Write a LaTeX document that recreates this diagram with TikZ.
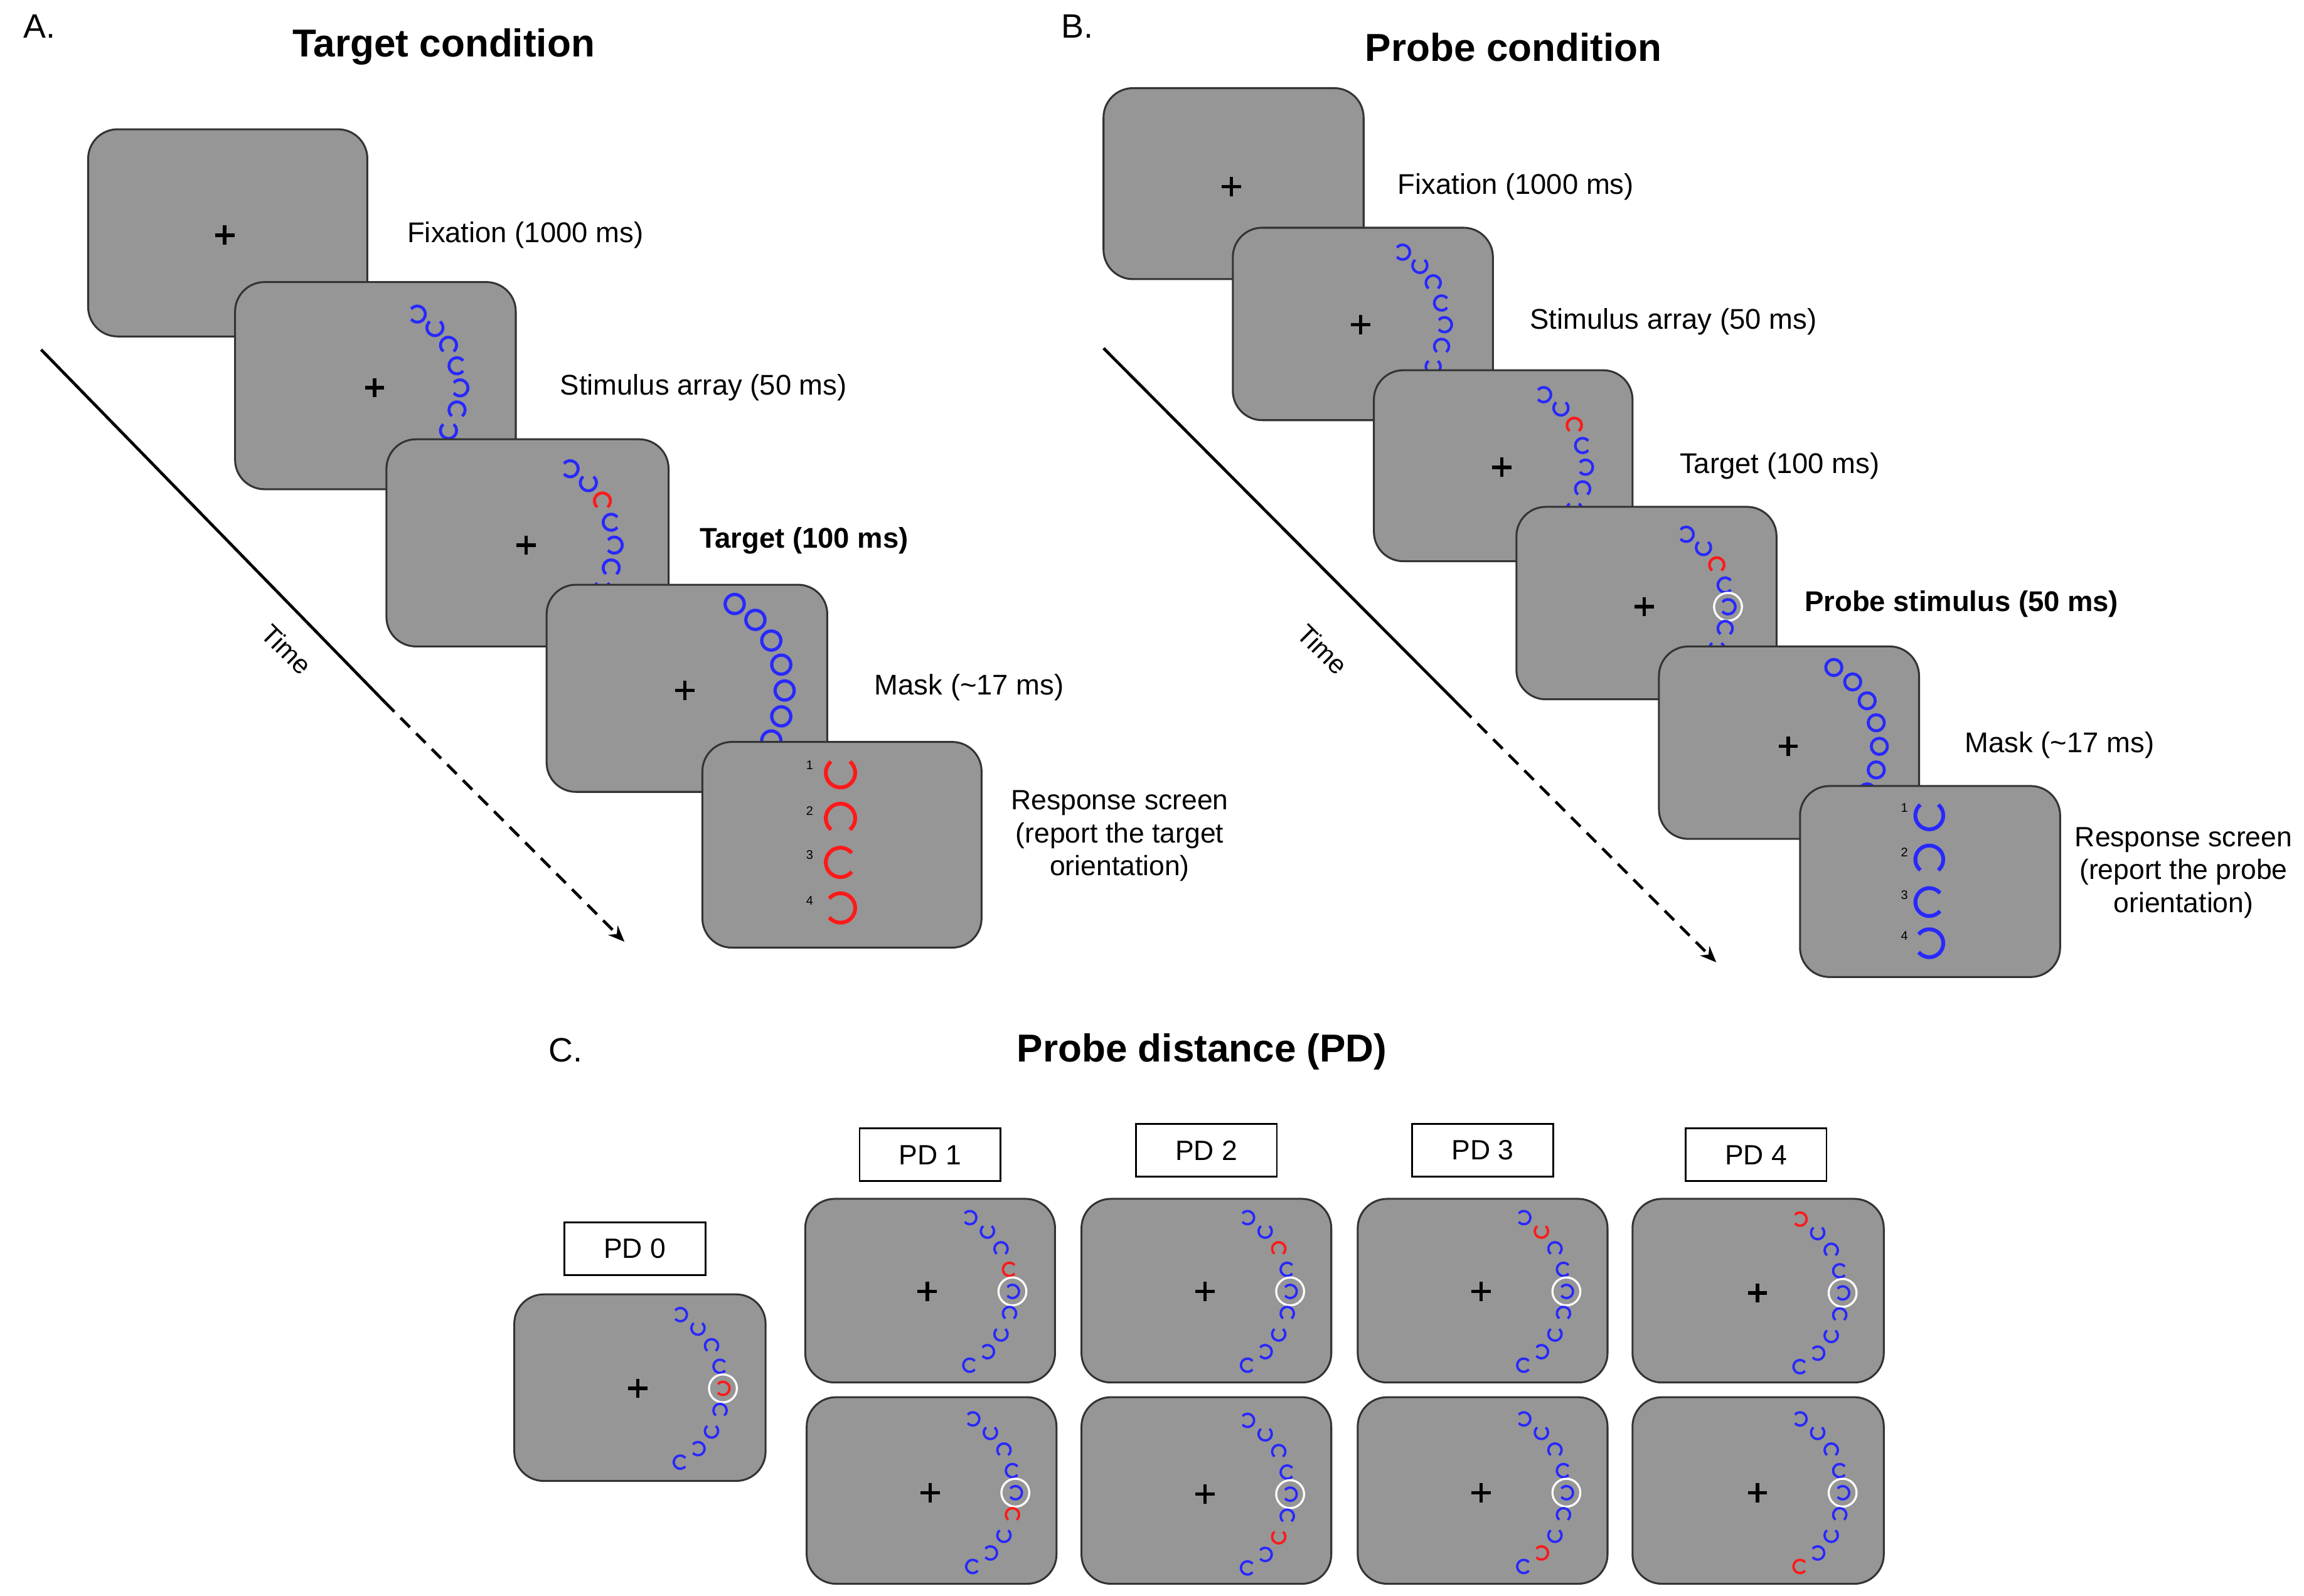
\documentclass[tikz,border=0pt]{standalone}
\usepackage{fontspec}
\setmainfont{Liberation Sans}
\usetikzlibrary{calc,arrows.meta}
\definecolor{scrgray}{RGB}{150,150,150}
\definecolor{cblue}{RGB}{40,40,255}
\definecolor{cred}{RGB}{255,25,25}
\tikzset{
  scr/.style={draw=black!80,line width=1.3pt,fill=scrgray,rounded corners=20pt},
  lab/.style={font=\fontsize{19.4}{23}\selectfont,anchor=west,inner sep=0},
  blab/.style={lab,font=\fontsize{19.4}{23}\selectfont\bfseries},
  resp/.style={font=\fontsize{19}{22.5}\selectfont,align=center,inner sep=0},
  ttl/.style={font=\fontsize{26.5}{30}\selectfont\bfseries,inner sep=0},
  let/.style={font=\fontsize{23}{26}\selectfont,inner sep=0},
  timel/.style={font=\fontsize{18}{20}\selectfont,rotate=-45,inner sep=0},
  pdbox/.style={draw,line width=1.2pt,fill=white,minimum width=96pt,minimum height=36pt,font=\fontsize{19}{22}\selectfont},
  num/.style={font=\fontsize{8.5}{9}\selectfont,inner sep=0},
  tline/.style={line width=2pt},
  tdash/.style={line width=2pt,dash pattern=on 9pt off 6pt,-{Stealth[length=11pt,width=9pt]}}
}
\newcommand{\scrn}[4]{\draw[scr] (#1,#2) rectangle (#3,#4);}
\newcommand{\fix}[2]{\draw[line width=2.4pt] ({#1-6.5},#2)--({#1+6.5},#2) (#1,{#2-6.5})--(#1,{#2+6.5});}
% cx cy R r red probe lw
\newcommand{\ringC}[7]{%
\foreach \i in {0,...,8}{%
 \pgfmathsetmacro\ang{-60+15*\i}%
 \pgfmathsetmacro\op{{180,270,90,0,180,90,270,180,0}[\i]}%
 \ifnum\i=#5 \def\col{cred}\else\def\col{cblue}\fi
 \draw[\col,line width=#7] ($(#1,#2)+(\ang:#3)+(\op+40:#4)$) arc[start angle=\op+40,end angle=\op+320,radius=#4];
 \ifnum\i=#6 \draw[white,line width=1.4pt] ($(#1,#2)+(\ang:#3)$) circle[radius=9.5];\fi
}}
\newcommand{\ringO}[5]{%
\foreach \i in {0,...,8}{%
 \pgfmathsetmacro\ang{-60+15*\i}%
 \draw[cblue,line width=#5] ($(#1,#2)+(\ang:#3)$) circle[radius=#4];
}}
\newcommand{\bigC}[5]{\draw[#5,line width=2.6pt] ($(#1,#2)+(#4+40:#3)$) arc[start angle=#4+40,end angle=#4+320,radius=#3];}
\begin{document}
\begin{tikzpicture}[x=1pt,y=-1pt]
\useasboundingbox (0,0) rectangle (1568,1086);
% ---------- A ----------
\node[let] (A) at (27,18) {A.};
\node[ttl] (tA) at (302,32) {Target condition};
\coordinate (a0) at (28,238); \coordinate (a1) at (262,478); \coordinate (a2) at (425,641);
\draw[tline] (a0)--(a1);
\draw[tdash] (a1)--(a2);
\node[timel] (timeA) at (195,442) {Time};
\scrn{60}{88}{250}{229}\fix{153}{160}
\scrn{160}{192}{351}{333}\fix{255}{264}\ringC{255}{264}{58}{5.5}{-1}{-1}{2pt}
\scrn{263}{299}{455}{440}\fix{358}{371}\ringC{358}{371}{60}{5.5}{2}{-1}{2pt}
\scrn{372}{398}{563}{539}\fix{466}{470}\ringO{466}{470}{68}{6.5}{2.2pt}
\scrn{478}{505}{668}{645}
\foreach \y/\n/\o in {521/1/270,552/2/90,582/3/0,613/4/180}{
  \node[num] at (551,\y) {\n};
  \bigC{572}{{\y+5}}{10}{\o}{cred}}
\node[lab] (l1) at (277,160) {Fixation (1000 ms)};
\node[lab] (l2) at (381,264) {Stimulus array (50 ms)};
\node[blab] (l3) at (476,368) {Target (100 ms)};
\node[lab] (l4) at (595,468) {Mask (\textasciitilde17 ms)};
\node[resp] (l5) at (762,569) {Response screen\\(report the target\\orientation)};
% ---------- B ----------
\node[let] (B) at (733,18) {B.};
\node[ttl] (tB) at (1030,32) {Probe condition};
\coordinate (b0) at (751,237); \coordinate (b1) at (995,482); \coordinate (b2) at (1168,655);
\draw[tline] (b0)--(b1);
\draw[tdash] (b1)--(b2);
\node[timel] (timeB) at (900,442) {Time};
\scrn{751}{60}{928}{190}\fix{838}{127}
\scrn{839}{155}{1016}{286}\fix{926}{221}\ringC{926}{221}{57}{5}{-1}{-1}{1.8pt}
\scrn{935}{252}{1111}{382}\fix{1022}{318}\ringC{1022}{318}{57}{5}{2}{-1}{1.8pt}
\scrn{1032}{345}{1209}{476}\fix{1119}{413}\ringC{1119}{413}{57}{5}{2}{4}{1.8pt}
\scrn{1129}{440}{1306}{571}\fix{1217}{508}\ringO{1217}{508}{62}{5.5}{2pt}
\scrn{1225}{535}{1402}{665}
\foreach \y/\n/\o in {550/1/270,580/2/90,609/3/0,637/4/180}{
  \node[num] at (1296,\y) {\n};
  \bigC{1313}{{\y+5}}{9.5}{\o}{cblue}}
\node[lab] (m1) at (951,127) {Fixation (1000 ms)};
\node[lab] (m2) at (1041,219) {Stimulus array (50 ms)};
\node[lab] (m3) at (1143,317) {Target (100 ms)};
\node[blab] (m4) at (1228,411) {Probe stimulus (50 ms)};
\node[lab] (m5) at (1337,507) {Mask (\textasciitilde17 ms)};
\node[resp] (m6) at (1486,594) {Response screen\\(report the probe\\orientation)};
% ---------- C ----------
\node[let] (C) at (385,715) {C.};
\node[ttl] (tC) at (818,716) {Probe distance (PD)};
\node[pdbox] (pd0) at (432,850) {PD 0};
\node[pdbox] (pd1) at (633,786) {PD 1};
\node[pdbox] (pd2) at (821,783) {PD 2};
\node[pdbox] (pd3) at (1009,783) {PD 3};
\node[pdbox] (pd4) at (1195,786) {PD 4};
\scrn{350}{881}{521}{1008}\fix{434}{945}\ringC{434}{945}{58}{4.5}{4}{4}{1.6pt}
\scrn{548}{816}{718}{941}\fix{631}{879}\ringC{631}{879}{58}{4.5}{3}{4}{1.6pt}
\scrn{549}{951}{719}{1078}\fix{633}{1016}\ringC{633}{1016}{58}{4.5}{5}{4}{1.6pt}
\scrn{736}{816}{906}{941}\fix{820}{879}\ringC{820}{879}{58}{4.5}{2}{4}{1.6pt}
\scrn{736}{951}{906}{1078}\fix{820}{1017}\ringC{820}{1017}{58}{4.5}{6}{4}{1.6pt}
\scrn{924}{816}{1094}{941}\fix{1008}{879}\ringC{1008}{879}{58}{4.5}{1}{4}{1.6pt}
\scrn{924}{951}{1094}{1078}\fix{1008}{1016}\ringC{1008}{1016}{58}{4.5}{7}{4}{1.6pt}
\scrn{1111}{816}{1282}{941}\fix{1196}{880}\ringC{1196}{880}{58}{4.5}{0}{4}{1.6pt}
\scrn{1111}{951}{1282}{1078}\fix{1196}{1016}\ringC{1196}{1016}{58}{4.5}{8}{4}{1.6pt}
\end{tikzpicture}
\end{document}
